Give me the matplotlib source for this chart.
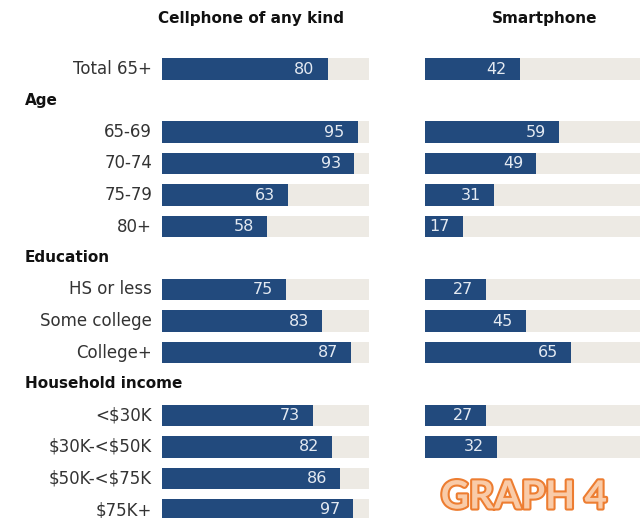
import matplotlib.pyplot as plt
import matplotlib.patheffects as pe

# rows in slot order top->bottom; group headers have no bars
labels = ['Total 65+', 'Age', '65-69', '70-74', '75-79', '80+',
          'Education', 'HS or less', 'Some college', 'College+',
          'Household income', '<$30K', '$30K-<$50K', '$50K-<$75K', '$75K+']
is_header = [False, True, False, False, False, False,
             True, False, False, False,
             True, False, False, False, False]

# printed values
cell_vals = [80, None, 95, 93, 63, 58, None, 75, 83, 87, None, 73, 82, 86, 97]
smart_vals = [42, None, 59, 49, 31, 17, None, 27, 45, 65, None, 27, 32, None, None]

# drawn bar lengths (left panel is not to scale)
cell_bars = [80.1, None, 94.5, 92.9, 61.1, 50.9, None, 59.8, 77.5, 91.5,
             None, 72.8, 82.3, 86.2, 92.3]
smart_bars = [41.9, None, 59, 49, 30.4, 16.7, None, 26.9, 44.5, 64.3,
              None, 26.9, 31.7, None, None]

BLUE = '#224a7d'
GREY = '#edeae4'
W, H = 640, 518

fig = plt.figure(figsize=(6.4, 5.18), dpi=100)
plt.rcParams['font.family'] = ['DejaVu Sans']

# slot 0 -> y=69px, spacing 31.5px
top = -69 / 31.5
bottom = (H - 69) / 31.5


def panel(x0, x1, bars, vals, title, title_x):
    ax = fig.add_axes([x0 / W, 0, (x1 - x0) / W, 1])
    ax.set_xlim(0, 100)
    ax.set_ylim(bottom, top)
    ax.axis('off')
    for i, (b, v) in enumerate(zip(bars, vals)):
        if b is None:
            continue
        ax.barh(i, 100, height=0.69, color=GREY)
        ax.barh(i, b, height=0.69, color=BLUE)
        ax.annotate(str(v), xy=(b, i), xytext=(-9.5, 0),
                    textcoords='offset points', ha='right', va='center',
                    color='#e4eaf2', fontsize=11.5)
    fig.text(title_x / W, 1 - 18 / H, title, ha='center', va='center',
             fontsize=11, fontweight='bold', color='#111111')
    return ax


panel(162, 369, cell_bars, cell_vals, 'Cellphone of any kind', 251)
panel(425, 652, smart_bars, smart_vals, 'Smartphone', 545)

for i, (lab, hdr) in enumerate(zip(labels, is_header)):
    y = 1 - (69 + i * 31.5) / H
    if hdr:
        fig.text(25 / W, y, lab, ha='left', va='center', parse_math=False,
                 fontsize=11, fontweight='bold', color='#111111')
    else:
        fig.text(152 / W, y, lab, ha='right', va='center', parse_math=False,
                 fontsize=12, color='#333333')

fig.text(524 / W, 1 - 497 / H, 'GRAPH 4', ha='center', va='center',
         fontsize=28, fontweight='bold', family='Lato', color='#f9cba8',
         path_effects=[pe.withStroke(linewidth=3, foreground='#ed7d31')])

fig.savefig('out.png', dpi=100)
